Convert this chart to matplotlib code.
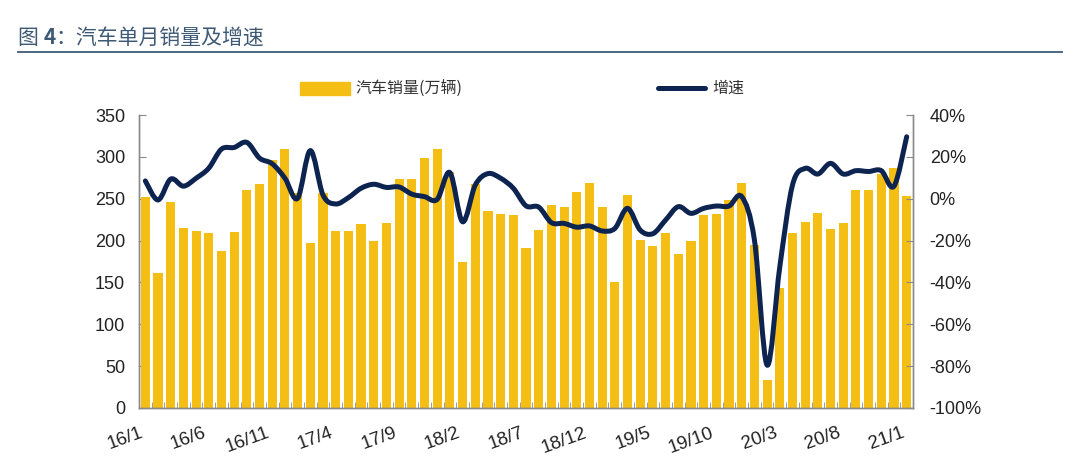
import numpy as np
import matplotlib
matplotlib.use('Agg')
import matplotlib.pyplot as plt
from matplotlib.path import Path
from matplotlib.patches import PathPatch, Rectangle
from matplotlib.lines import Line2D

# monthly data 2016/1 - 2021/1
months = [f'{y}/{m}' for y in range(16, 21) for m in range(1, 13)] + ['21/1']
sales = [252, 161, 246, 215, 211, 209, 187, 210, 260, 268, 296, 309,
         257, 197, 257, 211, 212, 220, 200, 221, 273, 273, 299, 309,
         282, 175, 268, 235, 232, 230, 191, 213, 242, 240, 258, 269,
         240, 151, 254, 201, 194, 209, 184, 199, 231, 232, 249, 269,
         195, 33, 143, 209, 222, 233, 214, 221, 260, 260, 280, 287,
         253]
growth = [8.5, -0.6, 9.4, 6.0, 9.8, 14.6, 23.7, 24.5, 26.9, 19.4, 16.7, 9.8,
          0.2, 23.0, 1.8, -2.5, 0.5, 5.0, 6.9, 5.4, 5.6, 2.2, 1.0, -0.3,
          12.5, -11.0, 6.5, 12.0, 9.8, 5.0, -3.4, -4.0, -11.4, -11.8, -13.6, -13.0,
          -15.4, -14.2, -4.6, -15.0, -16.7, -10.2, -3.8, -7.0, -4.6, -3.5, -3.5, 1.0,
          -19.7, -79.5, -32.5, 6.5, 14.5, 11.8, 16.9, 11.8, 13.4, 13.0, 13.4, 6.0,
          29.6]
label_idx = list(range(0, len(months), 5))

bar_color = '#F5BE14'
line_color = '#0D2350'
axis_color = '#8a8a8a'
title_color = '#3f5a76'
num_font = ['Liberation Sans', 'Noto Sans CJK SC']
cjk_font = ['Noto Sans CJK SC', 'DejaVu Sans']

fig = plt.figure(figsize=(10.8, 4.63), dpi=100)
ax = fig.add_axes([0.1287, 0.1188, 0.7167, 0.6328])

x = np.arange(len(sales))
ax.bar(x, sales, width=0.72, color=bar_color, zorder=2)
ax.set_xlim(-0.5, len(sales) - 0.5)
ax.set_ylim(0, 350)
ax.set_yticks(range(0, 351, 50))

ax2 = ax.twinx()
ax2.set_ylim(-100, 40)
ax2.set_yticks(range(-100, 41, 20))
ax2.set_yticklabels([f'{v}%' for v in range(-100, 41, 20)])

# smoothed growth line (cubic bezier through the data points)
pts = np.column_stack([x, growth]).astype(float)
verts = [pts[0]]
codes = [Path.MOVETO]
n = len(pts)
for i in range(n - 1):
    p_prev = pts[i - 1] if i > 0 else pts[i]
    p_next2 = pts[i + 2] if i + 2 < n else pts[i + 1]
    c1 = pts[i] + (pts[i + 1] - p_prev) / 6
    c2 = pts[i + 1] - (p_next2 - pts[i]) / 6
    verts += [c1, c2, pts[i + 1]]
    codes += [Path.CURVE4] * 3
ax2.add_patch(PathPatch(Path(verts, codes), fill=False, ec=line_color, lw=3.6,
                        capstyle='round', joinstyle='round', zorder=3))

ax.set_xticks(x[:-1] + 0.5, minor=True)
ax.set_xticks(label_idx)
ax.set_xticklabels([months[i] for i in label_idx], rotation=20, ha='right',
                   family=num_font, fontsize=13.5, color='#222222')
ax.tick_params(axis='x', which='major', length=0, pad=12)
ax.tick_params(axis='x', which='minor', direction='in', length=4, color=axis_color)
ax.tick_params(axis='y', direction='in', length=5, color=axis_color,
               labelsize=13, labelcolor='#222222', pad=10)
ax2.tick_params(axis='y', direction='in', length=5, color=axis_color,
                labelsize=13, labelcolor='#222222', pad=12)
for lbl in ax.get_yticklabels() + ax2.get_yticklabels():
    lbl.set_family(num_font)

for a in (ax, ax2):
    a.spines['top'].set_visible(False)
    for s in ('left', 'right', 'bottom'):
        a.spines[s].set_color(axis_color)
        a.spines[s].set_linewidth(1.0)

# title, with a bold figure number
renderer = fig.canvas.get_renderer()
tx = 18 / 1080
ty = 1 - 38 / 463
for part, weight in [('图 ', 'normal'), ('4', 'bold'), ('：汽车单月销量及增速', 'normal')]:
    t = fig.text(tx, ty, part, family=cjk_font, fontsize=15, color=title_color,
                 weight=weight, va='center', ha='left')
    tx += t.get_window_extent(renderer).width / fig.bbox.width
fig.add_artist(Line2D([18 / 1080, 1062 / 1080], [1 - 52 / 463] * 2,
                      color=title_color, lw=1.3))

# legend
fig.add_artist(Rectangle((300 / 1080, 1 - 95 / 463), 50 / 1080, 13 / 463,
                         color=bar_color, transform=fig.transFigure))
fig.text(355 / 1080, 1 - 88 / 463, '汽车销量(万辆)', family=cjk_font,
         fontsize=11.5, color='#333333', va='center', ha='left')
fig.add_artist(Line2D([658 / 1080, 705 / 1080], [1 - 88 / 463] * 2,
                      color=line_color, lw=3.6, solid_capstyle='round'))
fig.text(712 / 1080, 1 - 88 / 463, '增速', family=cjk_font,
         fontsize=11.5, color='#333333', va='center', ha='left')

fig.savefig('out.png', dpi=100)
